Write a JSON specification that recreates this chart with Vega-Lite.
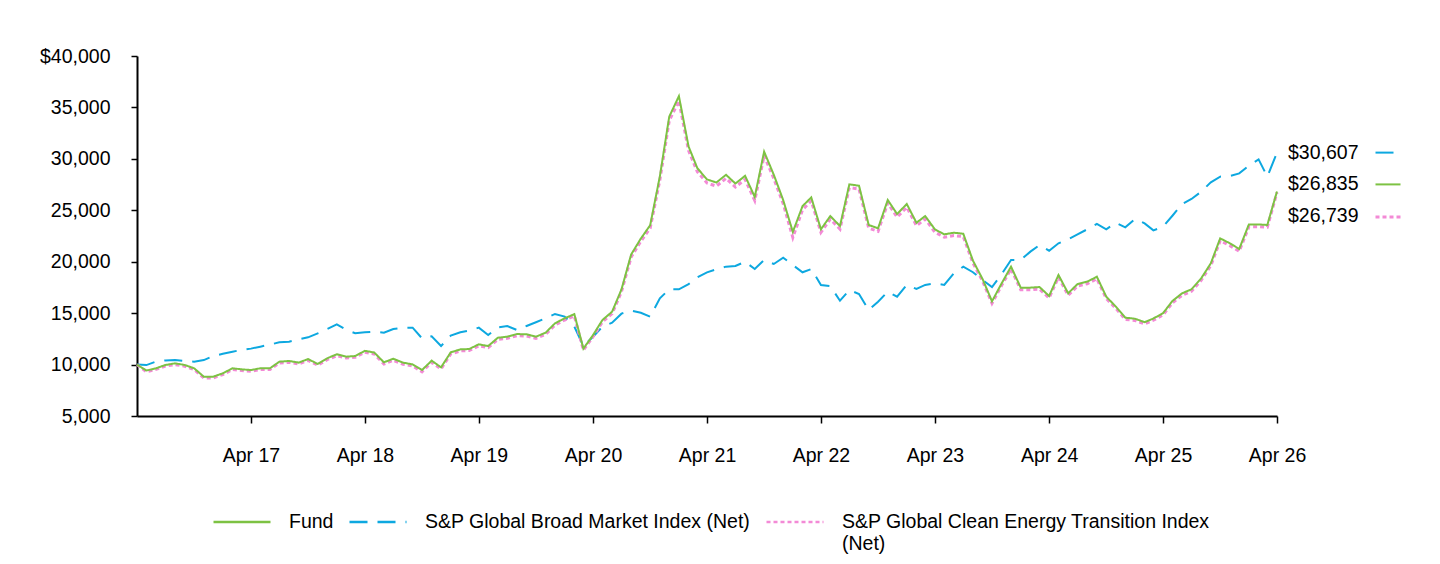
{
  "$schema": "https://vega.github.io/schema/vega-lite/v6.json",
  "width": 1140,
  "height": 360,
  "autosize": {"type": "none"},
  "padding": {"left": 137, "top": 56, "right": 163, "bottom": 148},
  "background": "white",
  "config": {
    "view": {"stroke": null},
    "font": "Liberation Sans",
    "axis": {
      "domainColor": "black",
      "domainWidth": 2,
      "tickColor": "black",
      "tickWidth": 1.5,
      "labelColor": "black",
      "labelFontSize": 19.5,
      "labelFont": "Liberation Sans",
      "grid": false
    },
    "legend": {
      "orient": "none",
      "legendX": 75,
      "legendY": 436,
      "direction": "horizontal",
      "symbolType": "stroke",
      "symbolSize": 3249,
      "symbolStrokeWidth": 2.5,
      "labelFontSize": 19.5,
      "labelFont": "Liberation Sans",
      "labelColor": "black",
      "labelOffset": 17,
      "columnPadding": 10,
      "labelLimit": 600
    }
  },
  "data": {
    "values": [
      {"date": "2016/04/01", "fund": 10000, "broad": 10000, "clean": 10000},
      {"date": "2016/05/01", "fund": 9420, "broad": 9950, "clean": 9300},
      {"date": "2016/06/01", "fund": 9640, "broad": 10300, "clean": 9530},
      {"date": "2016/07/01", "fund": 9960, "broad": 10400, "clean": 9850},
      {"date": "2016/08/01", "fund": 10120, "broad": 10450, "clean": 10000},
      {"date": "2016/09/01", "fund": 9960, "broad": 10350, "clean": 9840},
      {"date": "2016/10/01", "fund": 9640, "broad": 10280, "clean": 9520},
      {"date": "2016/11/01", "fund": 8820, "broad": 10440, "clean": 8700},
      {"date": "2016/12/01", "fund": 8820, "broad": 10830, "clean": 8700},
      {"date": "2017/01/01", "fund": 9150, "broad": 11050, "clean": 9030},
      {"date": "2017/02/01", "fund": 9640, "broad": 11250, "clean": 9520},
      {"date": "2017/03/01", "fund": 9540, "broad": 11420, "clean": 9420},
      {"date": "2017/04/01", "fund": 9470, "broad": 11550, "clean": 9350},
      {"date": "2017/05/01", "fund": 9640, "broad": 11740, "clean": 9520},
      {"date": "2017/06/01", "fund": 9640, "broad": 11950, "clean": 9520},
      {"date": "2017/07/01", "fund": 10280, "broad": 12160, "clean": 10150},
      {"date": "2017/08/01", "fund": 10350, "broad": 12220, "clean": 10220},
      {"date": "2017/09/01", "fund": 10190, "broad": 12450, "clean": 10060},
      {"date": "2017/10/01", "fund": 10540, "broad": 12650, "clean": 10410},
      {"date": "2017/11/01", "fund": 10060, "broad": 13040, "clean": 9940},
      {"date": "2017/12/01", "fund": 10610, "broad": 13450, "clean": 10480},
      {"date": "2018/01/01", "fund": 11000, "broad": 13910, "clean": 10860},
      {"date": "2018/02/01", "fund": 10770, "broad": 13360, "clean": 10640},
      {"date": "2018/03/01", "fund": 10830, "broad": 13040, "clean": 10700},
      {"date": "2018/04/01", "fund": 11340, "broad": 13140, "clean": 11200},
      {"date": "2018/05/01", "fund": 11170, "broad": 13200, "clean": 11030},
      {"date": "2018/06/01", "fund": 10220, "broad": 13100, "clean": 10050},
      {"date": "2018/07/01", "fund": 10570, "broad": 13460, "clean": 10420},
      {"date": "2018/08/01", "fund": 10190, "broad": 13590, "clean": 10030},
      {"date": "2018/09/01", "fund": 10020, "broad": 13590, "clean": 9860},
      {"date": "2018/10/01", "fund": 9470, "broad": 12550, "clean": 9300},
      {"date": "2018/11/01", "fund": 10380, "broad": 12750, "clean": 10220},
      {"date": "2018/12/01", "fund": 9730, "broad": 11800, "clean": 9570},
      {"date": "2019/01/01", "fund": 11190, "broad": 12810, "clean": 11030},
      {"date": "2019/02/01", "fund": 11480, "broad": 13140, "clean": 11330},
      {"date": "2019/03/01", "fund": 11510, "broad": 13300, "clean": 11360},
      {"date": "2019/04/01", "fund": 11970, "broad": 13590, "clean": 11820},
      {"date": "2019/05/01", "fund": 11800, "broad": 12870, "clean": 11650},
      {"date": "2019/06/01", "fund": 12610, "broad": 13620, "clean": 12450},
      {"date": "2019/07/01", "fund": 12710, "broad": 13750, "clean": 12550},
      {"date": "2019/08/01", "fund": 12970, "broad": 13360, "clean": 12800},
      {"date": "2019/09/01", "fund": 12940, "broad": 13750, "clean": 12780},
      {"date": "2019/10/01", "fund": 12710, "broad": 14110, "clean": 12550},
      {"date": "2019/11/01", "fund": 13100, "broad": 14500, "clean": 12940},
      {"date": "2019/12/01", "fund": 14010, "broad": 14920, "clean": 13840},
      {"date": "2020/01/01", "fund": 14500, "broad": 14660, "clean": 14330},
      {"date": "2020/02/01", "fund": 14900, "broad": 13700, "clean": 14730},
      {"date": "2020/03/01", "fund": 11550, "broad": 11800, "clean": 11400},
      {"date": "2020/04/01", "fund": 12870, "broad": 12710, "clean": 12710},
      {"date": "2020/05/01", "fund": 14330, "broad": 13690, "clean": 14150},
      {"date": "2020/06/01", "fund": 15140, "broad": 14070, "clean": 14950},
      {"date": "2020/07/01", "fund": 17300, "broad": 14950, "clean": 17080},
      {"date": "2020/08/01", "fund": 20700, "broad": 15240, "clean": 20450},
      {"date": "2020/09/01", "fund": 22250, "broad": 15040, "clean": 21980},
      {"date": "2020/10/01", "fund": 23550, "broad": 14660, "clean": 23270},
      {"date": "2020/11/01", "fund": 28300, "broad": 16440, "clean": 27950},
      {"date": "2020/12/01", "fund": 34100, "broad": 17320, "clean": 33700},
      {"date": "2021/01/01", "fund": 36100, "broad": 17320, "clean": 35650},
      {"date": "2021/02/01", "fund": 31200, "broad": 17830, "clean": 30800},
      {"date": "2021/03/01", "fund": 29100, "broad": 18480, "clean": 28750},
      {"date": "2021/04/01", "fund": 28000, "broad": 18970, "clean": 27650},
      {"date": "2021/05/01", "fund": 27700, "broad": 19260, "clean": 27350},
      {"date": "2021/06/01", "fund": 28450, "broad": 19520, "clean": 28100},
      {"date": "2021/07/01", "fund": 27600, "broad": 19580, "clean": 27250},
      {"date": "2021/08/01", "fund": 28350, "broad": 20000, "clean": 28000},
      {"date": "2021/09/01", "fund": 26300, "broad": 19290, "clean": 25950},
      {"date": "2021/10/01", "fund": 30700, "broad": 20170, "clean": 30300},
      {"date": "2021/11/01", "fund": 28450, "broad": 19780, "clean": 28100},
      {"date": "2021/12/01", "fund": 26000, "broad": 20390, "clean": 25650},
      {"date": "2022/01/01", "fund": 22900, "broad": 19680, "clean": 22350},
      {"date": "2022/02/01", "fund": 25400, "broad": 18970, "clean": 25050},
      {"date": "2022/03/01", "fund": 26250, "broad": 19290, "clean": 25920},
      {"date": "2022/04/01", "fund": 23150, "broad": 17740, "clean": 22850},
      {"date": "2022/05/01", "fund": 24440, "broad": 17640, "clean": 24130},
      {"date": "2022/06/01", "fund": 23470, "broad": 16210, "clean": 23170},
      {"date": "2022/07/01", "fund": 27520, "broad": 17250, "clean": 27200},
      {"date": "2022/08/01", "fund": 27390, "broad": 16860, "clean": 27070},
      {"date": "2022/09/01", "fund": 23570, "broad": 15300, "clean": 23270},
      {"date": "2022/10/01", "fund": 23250, "broad": 16110, "clean": 22950},
      {"date": "2022/11/01", "fund": 26000, "broad": 17090, "clean": 25700},
      {"date": "2022/12/01", "fund": 24640, "broad": 16600, "clean": 24340},
      {"date": "2023/01/01", "fund": 25610, "broad": 17740, "clean": 25300},
      {"date": "2023/02/01", "fund": 23790, "broad": 17350, "clean": 23500},
      {"date": "2023/03/01", "fund": 24440, "broad": 17740, "clean": 24150},
      {"date": "2023/04/01", "fund": 23150, "broad": 17900, "clean": 22870},
      {"date": "2023/05/01", "fund": 22660, "broad": 17740, "clean": 22380},
      {"date": "2023/06/01", "fund": 22820, "broad": 18870, "clean": 22540},
      {"date": "2023/07/01", "fund": 22720, "broad": 19520, "clean": 22440},
      {"date": "2023/08/01", "fund": 20100, "broad": 18980, "clean": 19880},
      {"date": "2023/09/01", "fund": 18300, "broad": 18220, "clean": 18100},
      {"date": "2023/10/01", "fund": 16150, "broad": 17540, "clean": 15950},
      {"date": "2023/11/01", "fund": 17900, "broad": 18800, "clean": 17700},
      {"date": "2023/12/01", "fund": 19520, "broad": 20170, "clean": 19300},
      {"date": "2024/01/01", "fund": 17480, "broad": 20170, "clean": 17280},
      {"date": "2024/02/01", "fund": 17480, "broad": 20980, "clean": 17280},
      {"date": "2024/03/01", "fund": 17540, "broad": 21620, "clean": 17340},
      {"date": "2024/04/01", "fund": 16670, "broad": 21070, "clean": 16480},
      {"date": "2024/05/01", "fund": 18710, "broad": 21790, "clean": 18500},
      {"date": "2024/06/01", "fund": 16930, "broad": 22180, "clean": 16740},
      {"date": "2024/07/01", "fund": 17830, "broad": 22660, "clean": 17630},
      {"date": "2024/08/01", "fund": 18060, "broad": 23150, "clean": 17860},
      {"date": "2024/09/01", "fund": 18540, "broad": 23670, "clean": 18340},
      {"date": "2024/10/01", "fund": 16600, "broad": 23150, "clean": 16420},
      {"date": "2024/11/01", "fund": 15630, "broad": 23790, "clean": 15450},
      {"date": "2024/12/01", "fund": 14560, "broad": 23340, "clean": 14390},
      {"date": "2025/01/01", "fund": 14460, "broad": 24150, "clean": 14290},
      {"date": "2025/02/01", "fund": 14120, "broad": 23730, "clean": 13950},
      {"date": "2025/03/01", "fund": 14480, "broad": 23050, "clean": 14310},
      {"date": "2025/04/01", "fund": 15000, "broad": 23400, "clean": 14830},
      {"date": "2025/05/01", "fund": 16180, "broad": 24470, "clean": 16000},
      {"date": "2025/06/01", "fund": 16930, "broad": 25610, "clean": 16740},
      {"date": "2025/07/01", "fund": 17320, "broad": 26100, "clean": 17130},
      {"date": "2025/08/01", "fund": 18380, "broad": 26810, "clean": 18180},
      {"date": "2025/09/01", "fund": 19840, "broad": 27720, "clean": 19630},
      {"date": "2025/10/01", "fund": 22270, "broad": 28270, "clean": 22040},
      {"date": "2025/11/01", "fund": 21790, "broad": 28330, "clean": 21560},
      {"date": "2025/12/01", "fund": 21240, "broad": 28590, "clean": 21020},
      {"date": "2026/01/01", "fund": 23630, "broad": 29340, "clean": 23400},
      {"date": "2026/02/01", "fund": 23630, "broad": 29950, "clean": 23400},
      {"date": "2026/03/01", "fund": 23570, "broad": 28270, "clean": 23350},
      {"date": "2026/04/01", "fund": 26835, "broad": 30607, "clean": 26739}
    ]
  },
  "transform": [
    {"fold": ["fund", "broad", "clean"], "as": ["series", "value"]},
    {"joinaggregate": [{"op": "max", "field": "date", "as": "lastDate"}]}
  ],
  "encoding": {
    "x": {
      "field": "date",
      "type": "temporal",
      "scale": {"domain": [{"year": 2016, "month": 4, "date": 1}, {"year": 2026, "month": 4, "date": 1}]},
      "axis": {
        "title": null,
        "format": "%b %y",
        "values": [
          {"year": 2017, "month": 4, "date": 1}, {"year": 2018, "month": 4, "date": 1},
          {"year": 2019, "month": 4, "date": 1}, {"year": 2020, "month": 4, "date": 1},
          {"year": 2021, "month": 4, "date": 1}, {"year": 2022, "month": 4, "date": 1},
          {"year": 2023, "month": 4, "date": 1}, {"year": 2024, "month": 4, "date": 1},
          {"year": 2025, "month": 4, "date": 1}, {"year": 2026, "month": 4, "date": 1}
        ],
        "tickSize": 7,
        "labelPadding": 23,
        "labelFlush": false,
        "labelOverlap": false
      }
    },
    "y": {
      "field": "value",
      "type": "quantitative",
      "scale": {"domain": [5000, 40000], "nice": false, "zero": false},
      "axis": {
        "title": null,
        "values": [5000, 10000, 15000, 20000, 25000, 30000, 35000, 40000],
        "labelExpr": "datum.value == 40000 ? '$40,000' : format(datum.value, ',')",
        "tickSize": 6,
        "labelPadding": 21
      }
    }
  },
  "layer": [
    {
      "transform": [{"filter": "datum.series == 'broad'"}],
      "mark": {"type": "line", "strokeCap": "butt", "strokeWidth": 2},
      "encoding": {
        "color": {
          "field": "series", "type": "nominal", "title": null,
          "scale": {"domain": ["fund", "broad", "clean"], "range": ["#7DC243", "#0DA8E0", "#F38AD6"]},
          "legend": {
            "labelExpr": "datum.label == 'fund' ? ['Fund', ' '] : datum.label == 'broad' ? ['S&P Global Broad Market Index (Net)', ' '] : ['S&P Global Clean Energy Transition Index', '(Net)']"
          }
        },
        "strokeDash": {
          "field": "series", "type": "nominal", "title": null,
          "scale": {"domain": ["fund", "broad", "clean"], "range": [[1, 0], [18, 10], [4, 3]]}
        }
      }
    },
    {
      "transform": [{"filter": "datum.series == 'clean'"}],
      "mark": {"type": "line", "strokeCap": "butt", "strokeWidth": 3},
      "encoding": {
        "color": {"field": "series", "type": "nominal", "title": null},
        "strokeDash": {"field": "series", "type": "nominal", "title": null}
      }
    },
    {
      "transform": [{"filter": "datum.series == 'fund'"}],
      "mark": {"type": "line", "strokeCap": "butt", "strokeWidth": 2},
      "encoding": {
        "color": {"field": "series", "type": "nominal", "title": null},
        "strokeDash": {"field": "series", "type": "nominal", "title": null}
      }
    },
    {
      "transform": [{"filter": "datum.series == 'broad' && datum.date >= datum.lastDate"}],
      "layer": [
        {
          "mark": {"type": "text", "align": "left", "baseline": "middle", "dx": 11, "dy": 0, "fontSize": 19.5, "color": "black"},
          "encoding": {"text": {"field": "value", "type": "quantitative", "format": "$,.0f"}}
        },
        {
          "mark": {"type": "point", "shape": "stroke", "size": 625, "filled": false, "opacity": 1, "strokeWidth": 2, "color": "#0DA8E0", "strokeDash": [18, 10], "xOffset": 111, "yOffset": 0}
        }
      ]
    },
    {
      "transform": [{"filter": "datum.series == 'fund' && datum.date >= datum.lastDate"}],
      "layer": [
        {
          "mark": {"type": "text", "align": "left", "baseline": "middle", "dx": 11, "dy": -7, "fontSize": 19.5, "color": "black"},
          "encoding": {"text": {"field": "value", "type": "quantitative", "format": "$,.0f"}}
        },
        {
          "mark": {"type": "point", "shape": "stroke", "size": 625, "filled": false, "opacity": 1, "strokeWidth": 2, "color": "#7DC243", "xOffset": 111, "yOffset": -7}
        }
      ]
    },
    {
      "transform": [{"filter": "datum.series == 'clean' && datum.date >= datum.lastDate"}],
      "layer": [
        {
          "mark": {"type": "text", "align": "left", "baseline": "middle", "dx": 11, "dy": 24, "fontSize": 19.5, "color": "black"},
          "encoding": {"text": {"field": "value", "type": "quantitative", "format": "$,.0f"}}
        },
        {
          "mark": {"type": "point", "shape": "stroke", "size": 625, "filled": false, "opacity": 1, "strokeWidth": 3, "color": "#F38AD6", "strokeDash": [4, 3], "xOffset": 111, "yOffset": 24.5}
        }
      ]
    }
  ]
}
